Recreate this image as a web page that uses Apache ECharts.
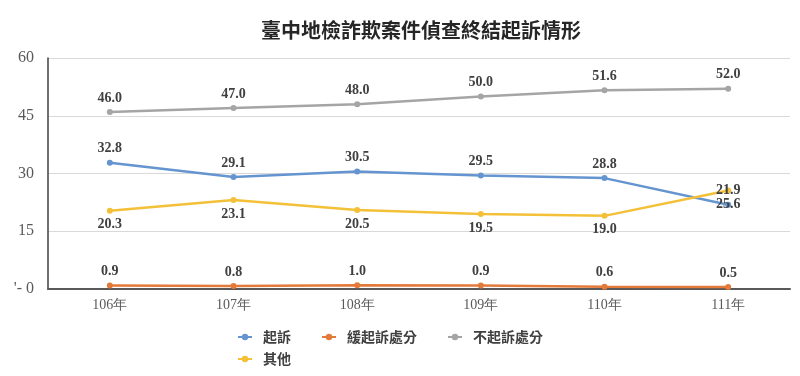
<!DOCTYPE html>
<html>
<head>
<meta charset="utf-8">
<script src="https://cdn.jsdelivr.net/npm/echarts@6/dist/echarts.min.js"></script>
<style>
  html, body { margin: 0; padding: 0; background: #fff; }
  #chart1 { width: 800px; height: 376px; }
</style>
</head>
<body>
<div id="chart1"></div>
<script>
// 臺中地檢詐欺案件偵查終結起訴情形
var yearList = ['106年', '107年', '108年', '109年', '110年', '111年'];
var sueList = [32.8, 29.1, 30.5, 29.5, 28.8, 21.9];
var deferList = [0.9, 0.8, 1.0, 0.9, 0.6, 0.5];
var noSueList = [46.0, 47.0, 48.0, 50.0, 51.6, 52.0];
var otherList = [20.3, 23.1, 20.5, 19.5, 19.0, 25.6];
// 原圖標籤文字（111年起訴與其他兩者標籤互換）
var sueLabels = ['32.8', '29.1', '30.5', '29.5', '28.8', '25.6'];
var otherLabels = ['20.3', '23.1', '20.5', '19.5', '19.0', '21.9'];
var yTicks = [0, 15, 30, 45, 60];

var serif = "'Liberation Serif', 'Times New Roman', serif";
var cjk = "'Noto Sans CJK TC', sans-serif";

var labelStyle = {
  show: true,
  fontFamily: serif,
  fontWeight: 'bold',
  fontSize: 14,
  color: '#404040',
  formatter: function(p) { return p.value.toFixed(1); }
};

function makeItems(values, labels) {
  return values.map(function(v, i) {
    var item = { value: v };
    if (labels) {
      item.label = { formatter: labels[i] };
      if (i == values.length - 1) {
        item.label.position = 'inside';
      }
    }
    return item;
  });
}

function lineSeries(name, color, data, pos) {
  return {
    name: name,
    type: 'line',
    symbol: 'circle',
    symbolSize: 6,
    lineStyle: { width: 2.5, color: color },
    itemStyle: { color: color },
    label: Object.assign({ position: pos, distance: 4 }, labelStyle),
    data: data
  };
}

var legendText = { fontFamily: cjk, fontSize: 14, fontWeight: 'bold', color: '#404040', padding: [0, 0, 0, 6] };

var chart = echarts.init(document.getElementById('chart1'));
chart.setOption({
  animation: false,
  title: {
    text: '臺中地檢詐欺案件偵查終結起訴情形',
    left: 256,
    top: 15,
    textStyle: { fontFamily: cjk, fontWeight: 'bold', fontSize: 20, color: '#262626' }
  },
  legend: [
    {
      data: ['起訴', '緩起訴處分', '不起訴處分'],
      left: 232, top: 325,
      itemWidth: 14, itemHeight: 8, itemGap: 30,
      textStyle: legendText
    },
    {
      data: ['其他'],
      left: 232, top: 347,
      itemWidth: 14, itemHeight: 8,
      textStyle: legendText
    }
  ],
  grid: { left: 48, right: 10, top: 58, bottom: 87 },
  xAxis: {
    type: 'category',
    data: yearList,
    boundaryGap: true,
    axisLine: { lineStyle: { color: '#595959', width: 2 } },
    axisTick: { show: false },
    axisLabel: { fontFamily: serif, fontSize: 14, color: '#595959', margin: 9 }
  },
  yAxis: {
    type: 'value',
    min: yTicks[0],
    max: yTicks[yTicks.length - 1],
    interval: 15,
    axisLine: { show: true, lineStyle: { color: '#404040', width: 1.5 } },
    axisTick: { show: false },
    splitLine: { lineStyle: { color: '#D9D9D9', width: 1 } },
    axisLabel: {
      fontFamily: serif, fontSize: 16, color: '#595959', margin: 14,
      formatter: function(v) { return v === 0 ? "'- 0" : String(v); }
    }
  },
  series: [
    lineSeries('起訴', '#6595D0', makeItems(sueList, sueLabels), 'top'),
    lineSeries('緩起訴處分', '#E47A3A', makeItems(deferList), 'top'),
    lineSeries('不起訴處分', '#A5A5A5', makeItems(noSueList), 'top'),
    lineSeries('其他', '#F3C038', makeItems(otherList, otherLabels), 'bottom')
  ]
});
</script>
</body>
</html>
